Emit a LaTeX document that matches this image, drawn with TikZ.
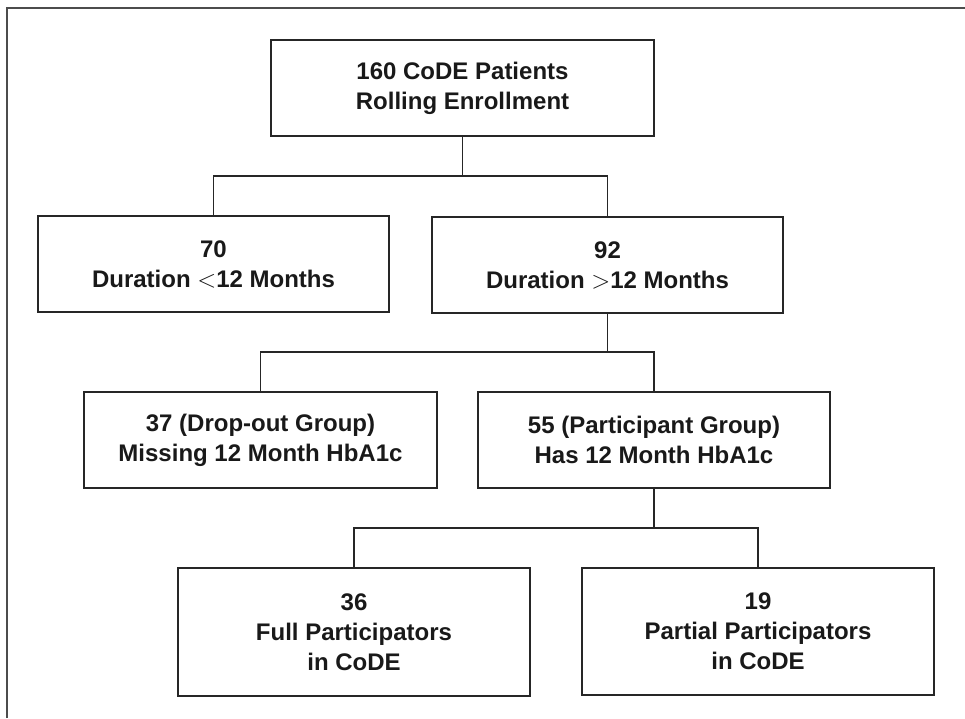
\documentclass[tikz,border=0pt]{standalone}
\usepackage{fontspec}
\setmainfont{Liberation Sans}
\begin{document}
\begin{tikzpicture}[x=1pt,y=-1pt,
  box/.style={draw=black!85, line width=1.4pt, rectangle, inner sep=0pt, align=center,
    font=\fontsize{24}{30}\selectfont\bfseries, text=black!90},
  conn/.style={draw=black!85, line width=1.2pt},
  frame/.style={draw=black!70, line width=1.4pt}]
\useasboundingbox (0,0) rectangle (965,718);
\draw[frame] (7,718) -- (7,8) -- (965,8);
\node[box, minimum width=383pt, minimum height=96pt] (top) at (462.5,88) {160 CoDE Patients\\Rolling Enrollment};
\node[box, minimum width=351pt, minimum height=96pt] (b70) at (213.5,264) {70\\Duration $<$12 Months};
\node[box, minimum width=351pt, minimum height=96pt] (b92) at (607.5,265) {92\\Duration $>$12 Months};
\node[box, minimum width=353pt, minimum height=96pt] (b37) at (260.5,440) {37 (Drop-out Group)\\Missing 12 Month HbA1c};
\node[box, minimum width=352pt, minimum height=96pt] (b55) at (654,440) {55 (Participant Group)\\Has 12 Month HbA1c};
\node[box, minimum width=352pt, minimum height=128pt] (b36) at (354,632) {36\\Full Participators\\in CoDE};
\node[box, minimum width=352pt, minimum height=127pt] (b19) at (758,631.5) {19\\Partial Participators\\in CoDE};
\coordinate (j1) at (462.5,176);
\coordinate (j2) at (607.5,352);
\coordinate (j3) at (654,528);
\draw[conn] (top.south) -- (j1);
\draw[conn] (b70.north) |- (j1) -| (b92.north);
\draw[conn] (b92.south) -- (j2);
\draw[conn] (b37.north) |- (j2) -| (b55.north);
\draw[conn] (b55.south) -- (j3);
\draw[conn] (b36.north) |- (j3) -| (b19.north);
\end{tikzpicture}
\end{document}
